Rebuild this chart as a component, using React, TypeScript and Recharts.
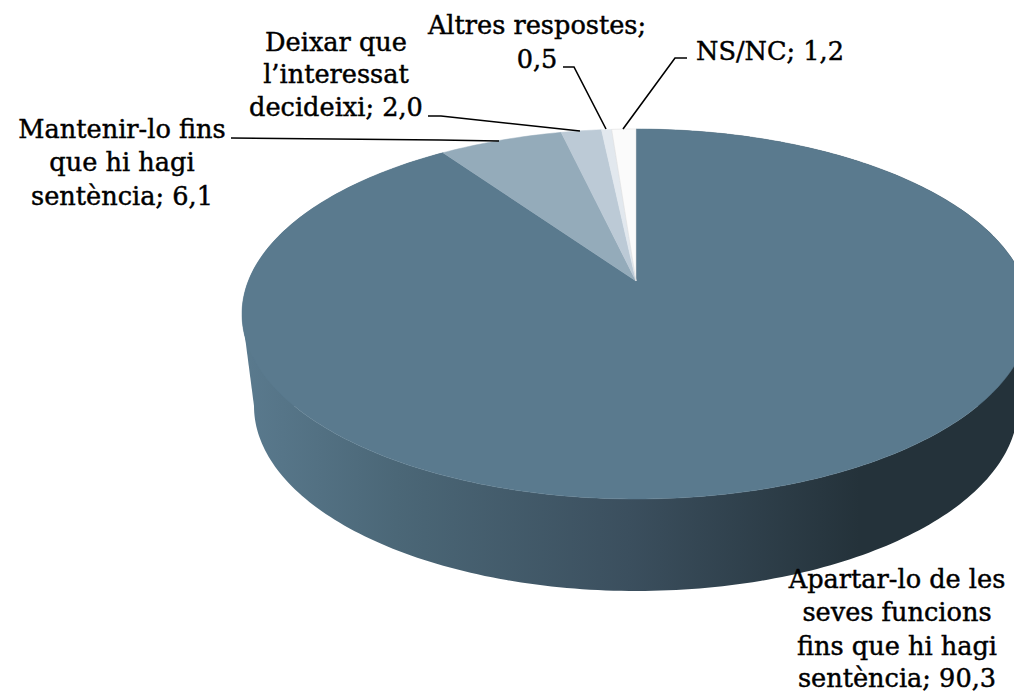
import React from 'react';
import { PieChart, Pie, Cell } from 'recharts';

const categories = [
  'Apartar-lo de les seves funcions fins que hi hagi sentència',
  'Mantenir-lo fins que hi hagi sentència',
  'Deixar que l’interessat decideixi',
  'Altres respostes',
  'NS/NC',
];
const values = [90.3, 6.1, 2.0, 0.5, 1.2];
const COLORS = ['#5A7A8E', '#94ABBA', '#BCCAD6', '#E2E8EE', '#FBFBFB'];

const data = categories.map((name, i) => ({ name, value: values[i] }));

// the chart is a tilted disc, cut off by the right edge of the picture
const TOP = { cx: 636, cy: 314, rx: 394, ry: 185 };
const BOTTOM = { cx: 636, cy: 406, rx: 382, ry: 185 };
const FONT = '"DejaVu Serif", serif';

const LABELS = [
  { x: 897, ys: [588, 621, 655, 687], lines: ['Apartar-lo de les', 'seves funcions', 'fins que hi hagi', 'sentència; 90,3'], leader: '' },
  { x: 122, ys: [138, 171, 205], lines: ['Mantenir-lo fins', 'que hi hagi', 'sentència; 6,1'], leader: '231,138 440,140 499,141' },
  { x: 336, ys: [51, 83, 116], lines: ['Deixar que', 'l’interessat', 'decideixi; 2,0'], leader: '428,116 441,116 580,131' },
  { x: 537, ys: [34, 68], lines: ['Altres respostes;', '0,5'], leader: '563,67 574,67 606,129' },
  { x: 770, ys: [60], lines: ['NS/NC; 1,2'], leader: '687,58 675,58 623,129' },
];

// project a pie angle from the apex on to the top ellipse
const rimPoint = (apexX: number, apexY: number, deg: number) => {
  const th = ((90 - deg) * Math.PI) / 180;
  const dx = Math.sin(th) * TOP.rx;
  const dy = -Math.cos(th) * TOP.ry;
  const ox = (apexX - TOP.cx) / TOP.rx;
  const oy = (apexY - TOP.cy) / TOP.ry;
  const ux = dx / TOP.rx;
  const uy = dy / TOP.ry;
  const a = ux * ux + uy * uy;
  const b = 2 * (ox * ux + oy * uy);
  const c = ox * ox + oy * oy - 1;
  const t = (-b + Math.sqrt(b * b - 4 * a * c)) / (2 * a);
  return { x: apexX + dx * t, y: apexY + dy * t };
};

const rimPoints = (props: any) => {
  const { cx, cy, startAngle, endAngle } = props;
  const steps = Math.max(2, Math.ceil(Math.abs(endAngle - startAngle)));
  const pts = [];
  for (let i = 0; i <= steps; i++) {
    pts.push(rimPoint(cx, cy, startAngle + ((endAngle - startAngle) * i) / steps));
  }
  return pts;
};

const toLower = (p: { x: number; y: number }) => ({
  x: BOTTOM.cx + ((p.x - TOP.cx) / TOP.rx) * BOTTOM.rx,
  y: BOTTOM.cy + ((p.y - TOP.cy) / TOP.ry) * BOTTOM.ry,
});

const TopSlice = (props: any) => {
  const pts = rimPoints(props);
  const d = `M${props.cx},${props.cy} ` + pts.map((p) => `L${p.x},${p.y}`).join(' ') + ' Z';
  return <path d={d} fill={props.fill} stroke={props.index === 4 ? '#D8D8D8' : props.fill} strokeWidth={0.5} />;
};

const SideSlice = (props: any) => {
  if (props.index !== 0) return <g />;
  const pts = rimPoints(props);
  const lower = pts.map(toLower).reverse();
  const d = 'M' + [...pts, ...lower].map((p) => `${p.x},${p.y}`).join(' L') + ' Z';
  // straight edges joining the two ellipses at their left and right ends
  const hull = `M${TOP.cx - TOP.rx},${TOP.cy} L${BOTTOM.cx - BOTTOM.rx},${BOTTOM.cy} L${BOTTOM.cx + BOTTOM.rx},${BOTTOM.cy} L${TOP.cx + TOP.rx},${TOP.cy} Z`;
  return (
    <g>
      <path d={hull} fill="url(#sideFill)" />
      <path d={d} fill="url(#sideFill)" />
    </g>
  );
};

const renderLabel = (props: any) => {
  const l = LABELS[props.index];
  return (
    <g key={props.index}>
      {l.leader && <polyline points={l.leader} fill="none" stroke="#000" strokeWidth={1.6} />}
      <text textAnchor="middle" fontFamily={FONT} fontSize={25.6} fill="#000" stroke="#000" strokeWidth={0.45}>
        {l.lines.map((line, i) => (
          <tspan key={i} x={l.x} y={l.ys[i]}>{line}</tspan>
        ))}
      </text>
    </g>
  );
};

export default function App() {
  return (
    <div style={{ position: 'absolute', left: 0, top: 0, width: 1014, height: 694, background: '#fff' }}>
      <PieChart width={1014} height={694} margin={{ top: 0, right: 0, bottom: 0, left: 0 }}>
        <defs>
          <linearGradient id="sideFill" x1="242" x2="1014" y1="0" y2="0" gradientUnits="userSpaceOnUse">
            <stop offset="0" stopColor="#5A7A8E" />
            <stop offset="0.2" stopColor="#4B6777" />
            <stop offset="0.5" stopColor="#3B4F5E" />
            <stop offset="0.8" stopColor="#24323A" />
            <stop offset="1" stopColor="#24323A" />
          </linearGradient>
        </defs>
        <Pie
          data={data}
          dataKey="value"
          cx={636}
          cy={281}
          outerRadius={150}
          startAngle={90}
          endAngle={-270}
          stroke="none"
          shape={SideSlice}
          isAnimationActive={false}
        />
        <Pie
          data={data}
          dataKey="value"
          cx={636}
          cy={281}
          outerRadius={150}
          startAngle={90}
          endAngle={-270}
          stroke="none"
          shape={TopSlice}
          label={renderLabel}
          labelLine={false}
          isAnimationActive={false}
        >
          {data.map((entry, index) => (
            <Cell key={`cell-${index}`} fill={COLORS[index]} />
          ))}
        </Pie>
      </PieChart>
    </div>
  );
}
